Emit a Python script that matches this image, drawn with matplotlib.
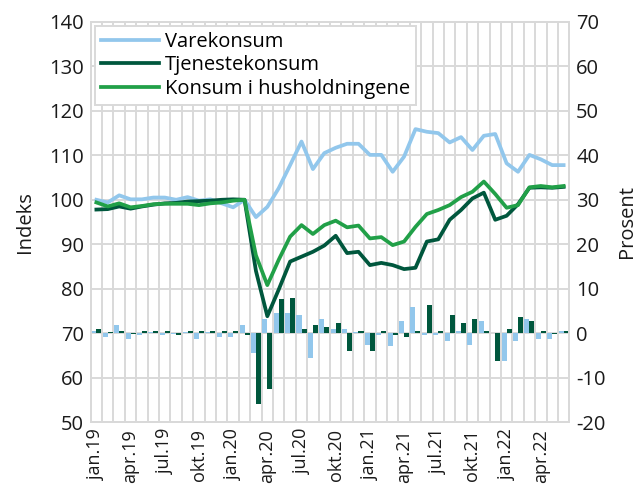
import numpy as np
import matplotlib
matplotlib.use("Agg")
import matplotlib.pyplot as plt

plt.rcParams['font.family'] = ['Open Sans', 'DejaVu Sans']
plt.rcParams['axes.unicode_minus'] = False

### Data ###
months = ['jan', 'feb', 'mar', 'apr', 'mai', 'jun', 'jul', 'aug', 'sep', 'okt', 'nov', 'des']
periods = [f'{m}.{y}' for y in ['19', '20', '21', '22'] for m in months][:42]

varekonsum = [100.0, 99.4, 101.0, 100.1, 100.1, 100.5, 100.5, 100.0, 100.6, 99.8, 100.1, 99.2,
              98.3, 100.0, 96.1, 98.4, 102.6, 107.8, 113.1, 106.9, 110.5, 111.7, 112.6, 112.6,
              110.1, 110.1, 106.3, 109.7, 115.9, 115.3, 115.0, 112.9, 114.1, 111.2, 114.4, 114.8,
              108.2, 106.3, 110.1, 109.1, 107.8, 107.8]
tjenestekonsum = [97.8, 97.9, 98.5, 98.0, 98.5, 98.9, 99.2, 99.3, 99.6, 99.7, 99.8, 100.0,
                  100.1, 100.0, 84.0, 73.8, 79.8, 86.1, 87.2, 88.3, 89.7, 91.9, 88.0, 88.3,
                  85.3, 85.8, 85.3, 84.4, 84.7, 90.6, 91.1, 95.5, 97.7, 100.3, 101.6, 95.5,
                  96.4, 99.0, 102.7, 102.8, 102.7, 102.9]
konsum = [99.4, 98.5, 99.2, 98.3, 98.6, 99.0, 99.1, 99.1, 99.1, 98.8, 99.2, 99.4,
          99.8, 100.0, 87.5, 80.8, 86.5, 91.7, 94.3, 92.3, 94.3, 95.3, 93.8, 94.2,
          91.3, 91.6, 89.8, 90.6, 93.9, 96.8, 97.7, 98.8, 100.6, 101.8, 104.1, 101.3,
          98.2, 98.8, 102.8, 103.1, 102.8, 103.1]

# monthly change in percent (right axis)
vare_pct = [0.4, -0.9, 1.8, -1.3, -0.4, 0.3, -0.4, -0.2, 0.3, -1.3, 0.2, -0.9,
            -0.9, 1.8, -4.4, 3.2, 4.5, 4.5, 4.1, -5.6, 3.2, 0.9, 0.9, 0.2,
            -2.6, -0.4, -3.0, 2.8, 5.9, -0.4, -0.4, -1.7, 0.4, -2.6, 2.7, 0.1,
            -6.2, -1.7, 3.2, -1.3, -1.3, 0.4]
tjeneste_pct = [0.9, 0.3, 0.4, -0.2, 0.4, 0.4, 0.4, -0.4, 0.4, 0.4, 0.4, 0.4,
                0.4, -0.4, -16.0, -12.5, 7.7, 8.0, 0.9, 1.8, 1.4, 2.3, -4.0, 0.4,
                -4.0, 0.4, -0.4, -0.8, 0.4, 6.3, 0.4, 4.1, 2.3, 3.2, 0.4, -6.2,
                0.9, 3.6, 2.7, 0.4, -0.3, 0.4]

### Style ###
c_vare = '#92C7EC'
c_tjen = '#00573D'
c_kons = '#21A048'
c_grid = '#D9D9D9'
c_text = '#1a1a1a'
fs = 14.5

x = np.arange(len(periods))

fig = plt.figure(figsize=(6.39, 4.87), dpi=100)
# main axes holds bars + grid (right scale), twin holds lines (left scale)
ax = fig.add_axes([90.7 / 639, 1 - 422 / 487, (569.3 - 90.7) / 639, 400 / 487])
axl = ax.twinx()

w = 0.44
ax.bar(x - w / 2, vare_pct, width=w, color=c_vare, zorder=3)
ax.bar(x + w / 2, tjeneste_pct, width=w, color=c_tjen, zorder=3)
ax.set_ylim(-20, 70)
ax.set_yticks(range(-20, 71, 10))
ax.yaxis.tick_right()
ax.yaxis.set_label_position('right')
ax.set_ylabel('Prosent', fontsize=fs, color=c_text)
ax.set_xlim(-0.5, len(periods) - 0.5)
ax.set_xticks(x[::3])
ax.set_xticklabels(periods[::3], rotation=90, fontsize=13)
ax.set_xticks(np.arange(-0.5, len(periods)), minor=True)
ax.grid(True, axis='y', color=c_grid, linewidth=1.4)
ax.grid(True, axis='x', which='minor', color=c_grid, linewidth=1.4)
ax.set_axisbelow(True)

axl.plot(x, varekonsum, color=c_vare, lw=2.7, label='Varekonsum')
axl.plot(x, tjenestekonsum, color=c_tjen, lw=2.7, label='Tjenestekonsum')
axl.plot(x, konsum, color=c_kons, lw=2.7, label='Konsum i husholdningene')
axl.set_ylim(50, 140)
axl.set_yticks(range(50, 141, 10))
axl.yaxis.tick_left()
axl.yaxis.set_label_position('left')
axl.set_ylabel('Indeks', fontsize=fs, color=c_text)

for a in (ax, axl):
    a.tick_params(axis='y', which='both', length=0, labelsize=fs, colors=c_text)
    a.tick_params(axis='x', which='both', length=0, colors=c_text)
    for s in a.spines.values():
        s.set_color(c_grid)
        s.set_linewidth(1.4)
ax.tick_params(axis='x', pad=5)
ax.tick_params(axis='y', pad=5)
axl.tick_params(axis='y', pad=5)
axl.yaxis.labelpad = 10
ax.yaxis.labelpad = 8

leg = axl.legend(loc='upper left', fontsize=fs, frameon=True, fancybox=False,
                 handlelength=2.9, handletextpad=0.3, labelspacing=0.17,
                 borderaxespad=0.2, borderpad=0.3, framealpha=1)
leg.get_frame().set_edgecolor(c_grid)
leg.get_frame().set_linewidth(1.4)

fig.savefig('out.png', dpi=100)
